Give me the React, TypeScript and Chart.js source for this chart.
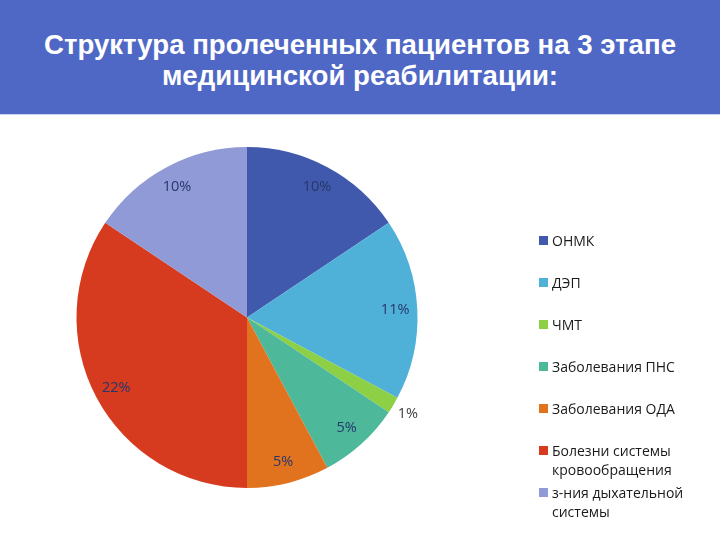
import React, { useEffect, useRef } from "react";
import { Chart, registerables } from "chart.js";

Chart.register(...registerables);

const titleLines = ["Структура пролеченных пациентов на 3 этапе", "медицинской реабилитации:"];
const categories = [
  "ОНМК",
  "ДЭП",
  "ЧМТ",
  "Заболевания ПНС",
  "Заболевания ОДА",
  "Болезни системы кровообращения",
  "з-ния дыхательной системы",
];
const legendLines = [
  ["ОНМК"],
  ["ДЭП"],
  ["ЧМТ"],
  ["Заболевания ПНС"],
  ["Заболевания ОДА"],
  ["Болезни системы", "кровообращения"],
  ["з-ния дыхательной", "системы"],
];
const values = [10, 11, 1, 5, 5, 22, 10];
const valueLabels = ["10%", "11%", "1%", "5%", "5%", "22%", "10%"];
const colors = ["#4159AD", "#4FB0D8", "#8DCF45", "#4DB89A", "#E1731F", "#D63A1F", "#8F9AD6"];

const labelPlugin = {
  id: "sliceLabels",
  afterDatasetsDraw(chart: any) {
    const ctx = chart.ctx;
    const meta = chart.getDatasetMeta(0);
    ctx.save();
    ctx.font = "14.5px 'Open Sans'";
    ctx.textAlign = "center";
    ctx.textBaseline = "middle";
    meta.data.forEach((arc: any, i: number) => {
      const p = arc.getProps(["x", "y", "startAngle", "endAngle", "outerRadius"], true);
      const mid = (p.startAngle + p.endAngle) / 2;
      const small = values[i] < 3;
      const r = p.outerRadius * (small ? 1.1 : 0.87);
      ctx.fillStyle = small ? "#404040" : "#26386A";
      ctx.fillText(valueLabels[i], p.x + Math.cos(mid) * r, p.y + Math.sin(mid) * r);
    });
    ctx.restore();
  },
};

export default function App() {
  const ref = useRef<HTMLCanvasElement | null>(null);
  useEffect(() => {
    if (!ref.current) return;
    const chart = new Chart(ref.current, {
      type: "pie",
      data: {
        labels: categories,
        datasets: [
          {
            data: values,
            backgroundColor: colors,
            borderWidth: 0,
          },
        ],
      },
      options: {
        animation: false,
        responsive: false,
        layout: { padding: { left: 76, right: 302, top: 31, bottom: 52 } },
        plugins: {
          legend: { display: false },
          tooltip: { enabled: false },
        },
      },
      plugins: [labelPlugin],
    });
    return () => chart.destroy();
  }, []);

  return (
    <div
      style={{
        position: "fixed",
        left: 0,
        top: 0,
        width: 720,
        height: 540,
        background: "#ffffff",
        overflow: "hidden",
      }}
    >
      <div
        style={{
          position: "absolute",
          left: 0,
          top: 0,
          width: 720,
          height: 115,
          background: "#4F68C6",
          borderBottom: "1px solid #C9D2EF",
          color: "#ffffff",
          fontFamily: "'Liberation Sans', Arial, sans-serif",
          fontWeight: "bold",
          fontSize: 27.6,
          lineHeight: "31px",
          textAlign: "center",
          boxSizing: "border-box",
          paddingTop: 29,
        }}
      >
        {titleLines.map((t, i) => (
          <div key={i}>{t}</div>
        ))}
      </div>
      <canvas ref={ref} width={720} height={424} style={{ position: "absolute", left: 0, top: 116, display: "block" }} />
      <div
        style={{
          position: "absolute",
          left: 539,
          top: 231,
          fontFamily: "'Open Sans', sans-serif",
          fontSize: 14,
          color: "#1a1a1a",
          lineHeight: "19px",
        }}
      >
        {legendLines.map((lines, i) => (
          <div key={i} style={{ position: "absolute", top: i * 42, left: 0, whiteSpace: "nowrap" }}>
            <div
              style={{
                position: "absolute",
                left: 0,
                top: 5,
                width: 9,
                height: 9,
                background: colors[i],
              }}
            />
            <div style={{ position: "absolute", left: 13, top: 0 }}>
              {lines.map((l, j) => (
                <div key={j}>{l}</div>
              ))}
            </div>
          </div>
        ))}
      </div>
    </div>
  );
}
